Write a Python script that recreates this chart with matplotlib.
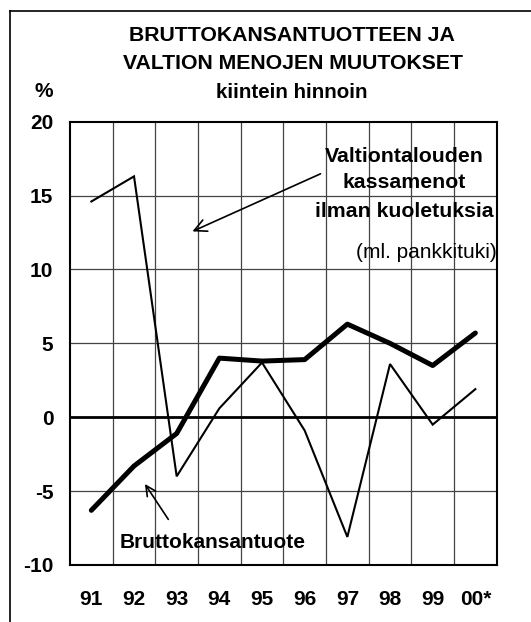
import matplotlib
matplotlib.use("Agg")
import matplotlib.pyplot as plt
from matplotlib.lines import Line2D

plt.rcParams['font.family'] = ['Liberation Sans', 'DejaVu Sans']

years = ["91", "92", "93", "94", "95", "96", "97", "98", "99", "00*"]
bkt = [-6.3, -3.3, -1.1, 4.0, 3.8, 3.9, 6.3, 5.0, 3.5, 5.7]
menot = [14.6, 16.3, -4.0, 0.6, 3.7, -0.9, -8.1, 3.6, -0.5, 1.9]
yticks = [-10, -5, 0, 5, 10, 15, 20]

W, H = 531, 622
fig = plt.figure(figsize=(W / 100, H / 100), dpi=100)
ax = fig.add_axes([70 / W, 1 - 565 / H, (496.7 - 70) / W, (565 - 121.7) / H])


def ftext(px, py, s, **kw):
    fig.text(px / W, 1 - py / H, s, va='baseline', **kw)


x = list(range(len(years)))
ax.plot(x, menot, color='black', lw=1.5, solid_joinstyle='miter', zorder=3)
ax.plot(x, bkt, color='black', lw=3.6, solid_joinstyle='round', solid_capstyle='round', zorder=4)

ax.set_xlim(-0.5, len(years) - 0.5)
ax.set_ylim(-10, 20)
ax.set_yticks(yticks)
ax.set_yticklabels([str(v) for v in yticks], fontsize=15, fontweight='bold')
ax.set_xticks(x)
ax.set_xticklabels(years, fontsize=15, fontweight='bold')
ax.tick_params(axis='both', length=0)
ax.tick_params(axis='x', pad=18)
ax.tick_params(axis='y', pad=12)

for k in range(1, len(years)):
    ax.axvline(k - 0.5, color='#444444', lw=0.9, zorder=1)
for v in yticks[1:-1]:
    if v == 0:
        ax.axhline(v, color='black', lw=2.0, zorder=2)
    else:
        ax.axhline(v, color='#444444', lw=0.9, zorder=1)
for s in ax.spines.values():
    s.set_linewidth(1.5)

# outer frame (left and top visible)
fig.add_artist(Line2D([10 / W, 10 / W], [0, 1 - 11 / H], color='black', lw=1.2, transform=fig.transFigure))
fig.add_artist(Line2D([10 / W, 1], [1 - 11 / H, 1 - 11 / H], color='black', lw=1.2, transform=fig.transFigure))

# titles
ftext(292, 41, "BRUTTOKANSANTUOTTEEN JA", ha='center', fontsize=15.3, fontweight='bold')
ftext(293, 69, "VALTION MENOJEN MUUTOKSET", ha='center', fontsize=15.3, fontweight='bold')
ftext(292, 98, "kiintein hinnoin", ha='center', fontsize=14.8, fontweight='bold')
ftext(44, 97, "%", ha='center', fontsize=15, fontweight='bold')

# annotations
ftext(404, 161.7, "Valtiontalouden", ha='center', fontsize=15.3, fontweight='bold')
ftext(404, 188.3, "kassamenot", ha='center', fontsize=15.3, fontweight='bold')
ftext(404, 217.3, "ilman kuoletuksia", ha='center', fontsize=15.3, fontweight='bold')
ftext(497, 258, "(ml. pankkituki)", ha='right', fontsize=15)
ax.annotate("", xy=(2.31, 12.5), xytext=(5.43, 16.55),
            arrowprops=dict(arrowstyle='->', color='black', lw=1.2, mutation_scale=22))

ftext(213, 548, "Bruttokansantuote", ha='center', fontsize=15, fontweight='bold')
ax.annotate("", xy=(1.22, -4.36), xytext=(1.84, -7.07),
            arrowprops=dict(arrowstyle='->', color='black', lw=1.2, mutation_scale=18))

fig.savefig("out.png", dpi=100)
